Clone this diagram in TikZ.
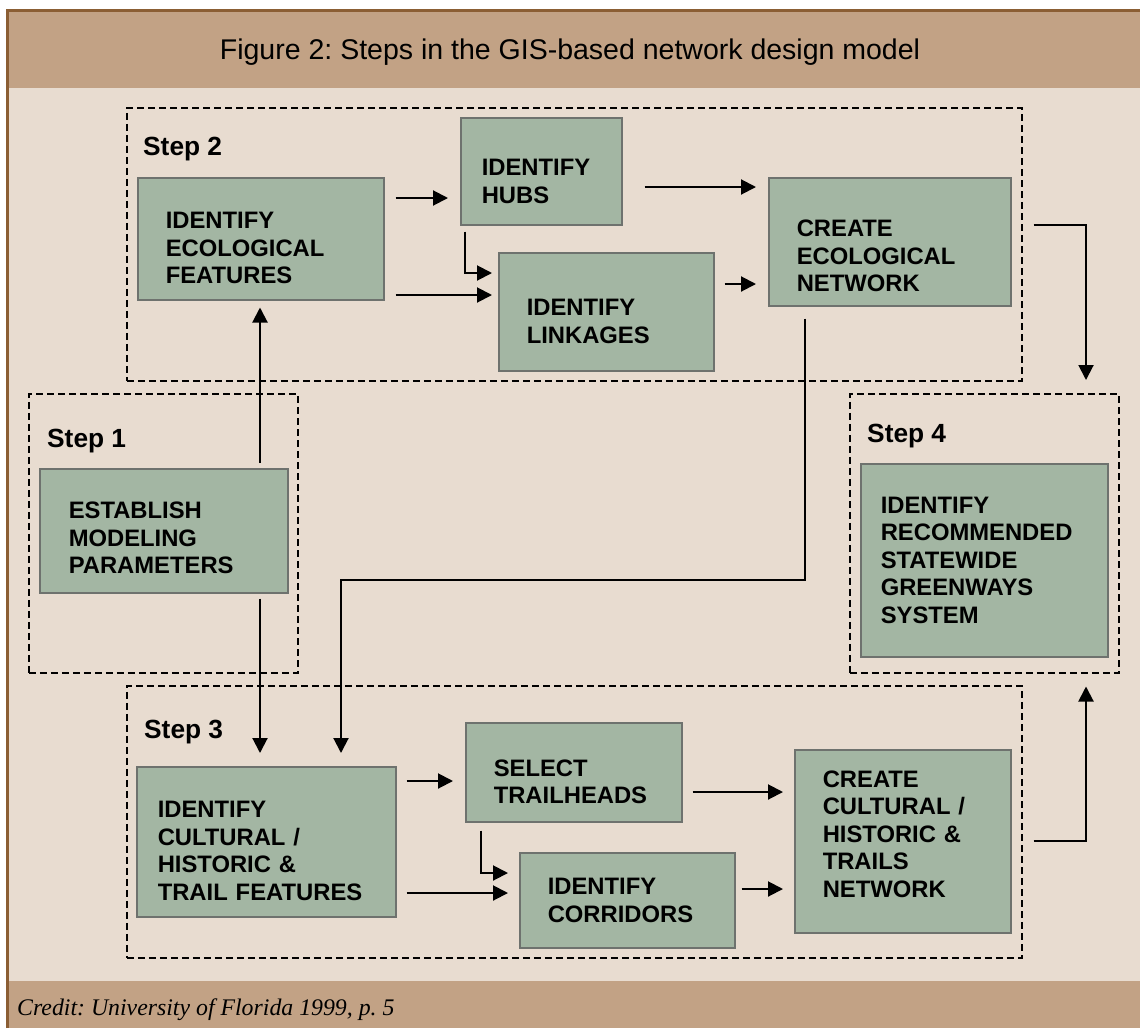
\documentclass[tikz,border=0pt]{standalone}
\usepackage{fontspec}
\setmainfont{Liberation Sans}
\newfontfamily\creditfont{Liberation Serif}
\usetikzlibrary{arrows.meta,calc}
\frenchspacing

\definecolor{rim}{HTML}{8B5E34}
\definecolor{band}{HTML}{C2A285}
\definecolor{paper}{HTML}{E8DCD0}
\definecolor{sage}{HTML}{A3B6A3}
\definecolor{sageline}{HTML}{6E726E}

\tikzset{
  taskbox/.style={draw=sageline, fill=sage, line width=1.5pt, anchor=north west,
    inner ysep=0pt, align=left, font=\fontsize{23.8}{27.5}\selectfont\bfseries},
  stepframe/.style={draw, dash pattern=on 7pt off 4pt, line width=1.5pt,
    anchor=north west, inner sep=0pt},
  steplabel/.style={anchor=base west, inner sep=0pt,
    font=\fontsize{26.3}{30}\selectfont\bfseries},
  arr/.style={line width=2pt, -{Triangle[length=15pt,width=15pt]}}
}

\begin{document}
\begin{tikzpicture}[x=1pt, y=-1pt]
  \useasboundingbox (0,0) rectangle (1140,1028);
  \fill[white] (0,0) rectangle (1140,1028);
  \fill[paper] (7.5,10.5) rectangle (1140,1028);
  \fill[band] (7.5,10.5) rectangle (1140,88);
  \fill[band] (7.5,981) rectangle (1140,1028);
  \draw[rim, line width=3pt] (7.5,1028) -- (7.5,10.5) -- (1140,10.5);

  \node[anchor=base, font=\fontsize{28.5}{34}\selectfont] (title) at (570,59)
    {Figure 2: Steps in the GIS-based network design model};
  \node[anchor=base west, inner sep=0pt, font=\creditfont\itshape\fontsize{23.8}{28}\selectfont]
    (credit) at (17,1015) {Credit: University of Florida 1999, p. 5};

  % dashed step frames
  \node[stepframe, minimum width=895pt, minimum height=273pt] (frame2) at (126,107) {};
  \node[stepframe, minimum width=269pt, minimum height=279pt] (frame1) at (28,393) {};
  \node[stepframe, minimum width=269pt, minimum height=279pt] (frame4) at (849,393) {};
  \node[stepframe, minimum width=895pt, minimum height=272pt] (frame3) at (126,685) {};

  \node[steplabel] (step2) at ($(frame2.north west)+(17,48)$) {Step 2};
  \node[steplabel] (step1) at ($(frame1.north west)+(19,54)$) {Step 1};
  \node[steplabel] (step4) at ($(frame4.north west)+(18,49)$) {Step 4};
  \node[steplabel] (step3) at ($(frame3.north west)+(18,53)$) {Step 3};

  % step 2
  \node[taskbox, minimum width=246pt, minimum height=122pt, text width=190pt, inner xsep=28pt]
    (eco) at (137,177) {\rule{0pt}{35pt}IDENTIFY\\ECOLOGICAL\\FEATURES};
  \node[taskbox, minimum width=161pt, minimum height=107pt, text width=119pt, inner xsep=21pt]
    (hubs) at (460,117) {\rule{0pt}{37pt}IDENTIFY\\HUBS};
  \node[taskbox, minimum width=215pt, minimum height=118pt, text width=159pt, inner xsep=28pt]
    (link) at (498,252) {\rule{0pt}{36pt}IDENTIFY\\LINKAGES};
  \node[taskbox, minimum width=242pt, minimum height=128pt, text width=186pt, inner xsep=28pt]
    (ceco) at (768,177) {\rule{0pt}{45pt}CREATE\\ECOLOGICAL\\NETWORK};

  % step 1 and step 4
  \node[taskbox, minimum width=248pt, minimum height=124pt, text width=190pt, inner xsep=29pt]
    (est) at (39,468) {\rule{0pt}{31pt}ESTABLISH\\MODELING\\PARAMETERS};
  \node[taskbox, minimum width=247pt, minimum height=193pt, text width=207pt, inner xsep=20pt]
    (green) at (860,463) {IDENTIFY\\RECOMMENDED\\STATEWIDE\\GREENWAYS\\SYSTEM};

  % step 3
  \node[taskbox, minimum width=259pt, minimum height=150pt, text width=217pt, inner xsep=21pt]
    (cult) at (136,766) {\rule{0pt}{35pt}IDENTIFY\\CULTURAL /\\HISTORIC \&\\TRAIL FEATURES};
  \node[taskbox, minimum width=216pt, minimum height=99pt, text width=160pt, inner xsep=28pt]
    (sel) at (465,722) {\rule{0pt}{36pt}SELECT\\TRAILHEADS};
  \node[taskbox, minimum width=215pt, minimum height=95pt, text width=159pt, inner xsep=28pt]
    (corr) at (519,852) {IDENTIFY\\CORRIDORS};
  \node[taskbox, minimum width=216pt, minimum height=183pt, text width=160pt, inner xsep=28pt]
    (ccult) at (794,749) {CREATE\\CULTURAL /\\HISTORIC \&\\TRAILS\\NETWORK\rule[-15pt]{0pt}{15pt}};

  % connectors, step 2
  \draw[arr, shorten <=11pt, shorten >=12pt] (eco.east |- 0,198) -- (hubs.west |- 0,198);
  \draw[arr, shorten <=11pt, shorten >=6pt] (eco.east |- 0,295) -- (link.west |- 0,295);
  \draw[arr, shorten >=6pt] ($(hubs.south west)+(5,6)$) |- (link.west |- 0,273);
  \draw[arr, shorten <=22pt, shorten >=12pt] (hubs.east |- 0,187) -- (ceco.west |- 0,187);
  \draw[arr, shorten <=10pt, shorten >=12pt] (link.east |- 0,284) -- (ceco.west |- 0,284);
  \draw[arr, shorten <=22pt, shorten >=13pt] (ceco.east |- 0,225) -| (frame4.north -| 1086,0);
  \draw[arr, shorten >=13pt] ($(ceco.south west)+(37,12)$) -- ++(0,261) -| (cult.north -| 341,0);

  % connectors, step 1
  \draw[arr, shorten >=7pt] ($(est.north -| 260,0)+(0,-5)$) -- (eco.south -| 260,0);
  \draw[arr, shorten >=13pt] ($(est.south -| 260,0)+(0,5)$) -- (cult.north -| 260,0);

  % connectors, step 3
  \draw[arr, shorten <=10pt, shorten >=12pt] (cult.east |- 0,781) -- (sel.west |- 0,781);
  \draw[arr, shorten <=10pt, shorten >=11pt] (cult.east |- 0,893) -- (corr.west |- 0,893);
  \draw[arr, shorten >=11pt] ($(sel.south west)+(16,8)$) |- (corr.west |- 0,873);
  \draw[arr, shorten <=10pt, shorten >=11pt] (sel.east |- 0,792) -- (ccult.west |- 0,792);
  \draw[arr, shorten <=6pt, shorten >=11pt] (corr.east |- 0,889) -- (ccult.west |- 0,889);
  \draw[arr, shorten <=22pt, shorten >=13pt] (ccult.east |- 0,841) -| (frame4.south -| 1086,0);
\end{tikzpicture}
\end{document}
